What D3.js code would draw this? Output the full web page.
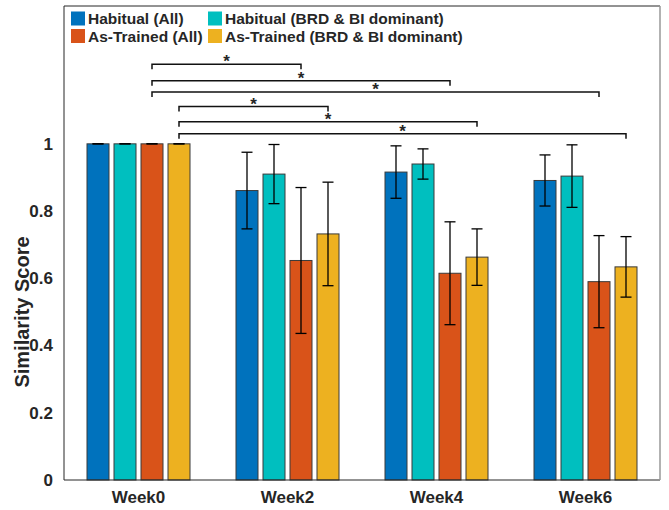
<!DOCTYPE html>
<html><head><meta charset="utf-8">
<script src="https://cdn.jsdelivr.net/npm/d3@7"></script>
<style>
body{margin:0;background:#fff}
text{font-family:"Liberation Sans",Arial,Helvetica,sans-serif;font-weight:bold;fill:#262626}
</style>
</head><body>
<svg id="chart" width="669" height="510"></svg>
<script>
// ---- data ----
const weeks = ["Week0", "Week2", "Week4", "Week6"];
const seriesNames = ["Habitual (All)", "Habitual (BRD & BI dominant)", "As-Trained (All)", "As-Trained (BRD & BI dominant)"];
const seriesColors = ["#0072BD", "#00BFBF", "#D95319", "#EDB120"];
const habitualAll = [1.0, 0.861, 0.916, 0.891];
const habitualAllErr = [0, 0.114, 0.078, 0.076];
const habitualBRD = [1.0, 0.910, 0.940, 0.904];
const habitualBRDErr = [0, 0.088, 0.045, 0.093];
const asTrainedAll = [1.0, 0.653, 0.615, 0.590];
const asTrainedAllErr = [0, 0.217, 0.153, 0.137];
const asTrainedBRD = [1.0, 0.732, 0.663, 0.634];
const asTrainedBRDErr = [0, 0.154, 0.084, 0.090];
const yTicks = [0, 0.2, 0.4, 0.6, 0.8, 1];
const yLabel = "Similarity Score";
// significance brackets: from week / to week, series index, level
const sigFromWeek = ["Week0", "Week0", "Week0", "Week0", "Week0", "Week0"];
const sigToWeek = ["Week2", "Week4", "Week6", "Week2", "Week4", "Week6"];
const sigSeries = [2, 2, 2, 3, 3, 3];
const sigLevel = [1.237, 1.188, 1.154, 1.111, 1.066, 1.030];

const values = [habitualAll, habitualBRD, asTrainedAll, asTrainedBRD];
const errors = [habitualAllErr, habitualBRDErr, asTrainedAllErr, asTrainedBRDErr];

// ---- layout ----
const pLeft = 64, pRight = 660, pTop = 6, pBottom = 480;
const svg = d3.select("#chart");

const x = d3.scaleBand().domain(weeks).range([pLeft, pRight]).padding(0);
const bw = x.bandwidth();
const xs = d3.scaleBand().domain(d3.range(4))
  .range([bw / 2 - 54, bw / 2 + 54])
  .paddingInner(5 / 27).paddingOuter(5 / 54);
const y = d3.scaleLinear().domain([0, 1.41]).range([pBottom, pTop]);

const cx = (w, s) => x(w) + xs(s) + xs.bandwidth() / 2;

// bars
const barData = [];
weeks.forEach((w, wi) => {
  for (let s = 0; s < 4; s++) barData.push({w, s, v: values[s][wi], e: errors[s][wi]});
});
svg.append("g").selectAll("rect").data(barData).join("rect")
  .attr("x", d => x(d.w) + xs(d.s))
  .attr("width", xs.bandwidth())
  .attr("y", d => y(d.v))
  .attr("height", d => y(0) - y(d.v))
  .attr("fill", d => seriesColors[d.s])
  .attr("stroke", "#3a3a3a")
  .attr("stroke-width", 1);

// error bars
const eg = svg.append("g").attr("stroke", "#000").attr("stroke-width", 1.3).attr("fill", "none");
barData.forEach(d => {
  const c = cx(d.w, d.s);
  eg.append("line").attr("x1", c).attr("x2", c).attr("y1", y(d.v - d.e)).attr("y2", y(d.v + d.e));
  eg.append("line").attr("x1", c - 5.5).attr("x2", c + 5.5).attr("y1", y(d.v + d.e)).attr("y2", y(d.v + d.e));
  eg.append("line").attr("x1", c - 5.5).attr("x2", c + 5.5).attr("y1", y(d.v - d.e)).attr("y2", y(d.v - d.e));
});

// axes box
svg.append("line").attr("x1", pLeft).attr("x2", pRight).attr("y1", pBottom).attr("y2", pBottom).attr("stroke", "#262626");
svg.append("line").attr("x1", pLeft).attr("x2", pLeft).attr("y1", pTop).attr("y2", pBottom).attr("stroke", "#262626");
svg.append("line").attr("x1", pLeft).attr("x2", pRight).attr("y1", pTop).attr("y2", pTop).attr("stroke", "#262626");
svg.append("line").attr("x1", pRight).attr("x2", pRight).attr("y1", pTop).attr("y2", pBottom).attr("stroke", "#999").attr("stroke-width", 1.5);

// y axis labels
const yAxis = d3.axisLeft(y).tickValues(yTicks).tickSize(0).tickPadding(11).tickFormat(d3.format("~g"));
const ya = svg.append("g").attr("transform", `translate(${pLeft},0)`).call(yAxis);
ya.select(".domain").remove();
ya.selectAll("text").attr("font-size", 17).attr("fill", "#262626")
  .style("font-family", '"Liberation Sans",Arial,sans-serif').style("font-weight", "bold");

// x axis labels
const xAxis = d3.axisBottom(x).tickSize(0).tickPadding(11);
const xa = svg.append("g").attr("transform", `translate(0,${pBottom})`).call(xAxis);
xa.select(".domain").remove();
xa.selectAll("text").attr("font-size", 17).attr("fill", "#262626")
  .style("font-family", '"Liberation Sans",Arial,sans-serif').style("font-weight", "bold");

// y label
svg.append("text").attr("transform", `translate(29,312) rotate(-90)`)
  .attr("text-anchor", "middle").attr("font-size", 20).text(yLabel);

// significance brackets
const sg = svg.append("g");
sigFromWeek.forEach((fw, i) => {
  const x1 = cx(fw, sigSeries[i]), x2 = cx(sigToWeek[i], sigSeries[i]);
  const yy = y(sigLevel[i]);
  sg.append("path")
    .attr("d", `M${x1},${yy + 5}V${yy}H${x2}V${yy + 5}`)
    .attr("fill", "none").attr("stroke", "#111").attr("stroke-width", 1.5);
  sg.append("text").attr("x", (x1 + x2) / 2).attr("y", yy + 3)
    .attr("text-anchor", "middle").attr("font-size", 17).attr("fill", "#000").text("*");
});

// legend
const legX = [71, 208], legY = [11.5, 29];
const lg = svg.append("g");
seriesNames.forEach((n, i) => {
  const col = i % 2 === 0 ? 0 : 1;
  const row = (i === 0 || i === 1) ? 0 : 1;
  lg.append("rect").attr("x", legX[col]).attr("y", legY[row]).attr("width", 14).attr("height", 14)
    .attr("fill", seriesColors[i]);
  lg.append("text").attr("x", legX[col] + 17).attr("y", legY[row] + 12.5)
    .attr("font-size", 15.5).attr("fill", "#000").text(n);
});
</script>
</body></html>
